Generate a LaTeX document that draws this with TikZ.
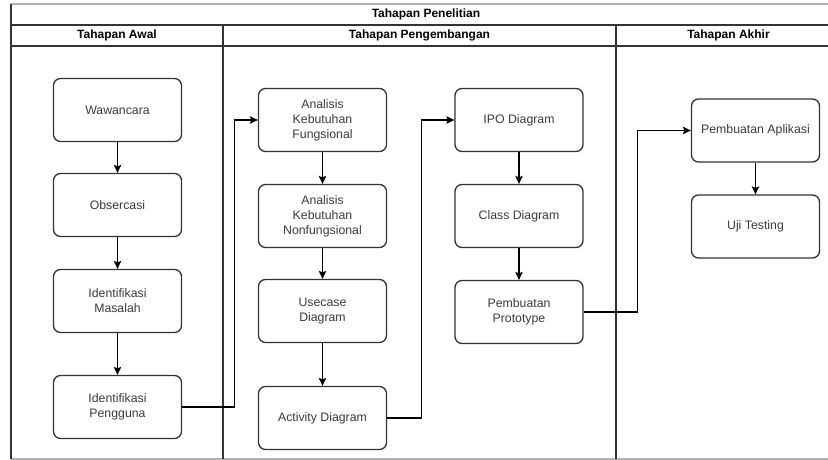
\documentclass[tikz,border=0pt]{standalone}
\usepackage{fontspec}
\setmainfont{Liberation Sans}
\usetikzlibrary{arrows.meta}
\definecolor{ln}{HTML}{333333}
\definecolor{tx}{HTML}{3A3A3A}
\begin{document}
\begin{tikzpicture}[x=1pt,y=-1pt,
  box/.style={draw=ln,line width=1.3pt,rounded corners=7pt,minimum width=128pt,minimum height=63pt,
    align=center,text=tx,font=\fontsize{12.3}{15}\selectfont,inner sep=2pt},
  hdr/.style={font=\fontsize{12}{14}\selectfont\bfseries,text=black,inner sep=0pt},
  arr/.style={draw=black,line width=1.1pt,-{Stealth[length=8pt,width=7.5pt,inset=1.5pt]}},
  frame/.style={draw=ln,line width=1.2pt}]
\useasboundingbox (0,0) rectangle (828,460);
% table frame
\draw[draw=gray!60,line width=1.2pt] (11,4) -- (828,4);
\draw[draw=gray!60,line width=1.2pt] (11,459) -- (828,459);
\draw[frame] (11,4) -- (11,459);
\draw[frame] (11,25) -- (828,25);
\draw[frame] (11,46) -- (828,46);
\draw[frame] (223,25) -- (223,459);
\draw[frame] (616,25) -- (616,459);
% headers
\node[hdr] (h0) at (426,14.5) {Tahapan Penelitian};
\node[hdr] (h1) at (117,35.5) {Tahapan Awal};
\node[hdr] (h2) at (419.5,35.5) {Tahapan Pengembangan};
\node[hdr] (h3) at (728.5,35.5) {Tahapan Akhir};
% column 1
\node[box] (waw) at (117.5,110) {Wawancara};
\node[box] (obs) at (117.5,205) {Obsercasi};
\node[box] (idm) at (117.5,301) {Identifikasi\\Masalah};
\node[box] (idp) at (117.5,407) {Identifikasi\\Pengguna};
% column 2
\node[box] (akf) at (322.5,120) {Analisis\\Kebutuhan\\Fungsional};
\node[box] (akn) at (322.5,216) {Analisis\\Kebutuhan\\Nonfungsional};
\node[box] (use) at (322.5,311) {Usecase\\Diagram};
\node[box] (act) at (322.5,418) {Activity Diagram};
% column 3
\node[box] (ipo) at (519,120) {IPO Diagram};
\node[box] (cls) at (519,216) {Class Diagram};
\node[box] (pro) at (519,312) {Pembuatan\\Prototype};
% column 4
\node[box] (apl) at (755.5,130.5) {Pembuatan Aplikasi};
\node[box] (uji) at (755.5,226.5) {Uji Testing};
% arrows
\draw[arr] (waw) -- (obs);
\draw[arr] (obs) -- (idm);
\draw[arr] (idm) -- (idp);
\draw[arr] (akf) -- (akn);
\draw[arr] (akn) -- (use);
\draw[arr] (use) -- (act);
\draw[arr] (ipo) -- (cls);
\draw[arr] (cls) -- (pro);
\draw[arr] (apl) -- (uji);
\draw[arr] (idp.east) -- ++(52,0) |- (akf.west);
\draw[arr] (act.east) -- ++(34,0) |- (ipo.west);
\draw[arr] (pro.east) -- ++(54,0) |- (apl.west);
\end{tikzpicture}
\end{document}
